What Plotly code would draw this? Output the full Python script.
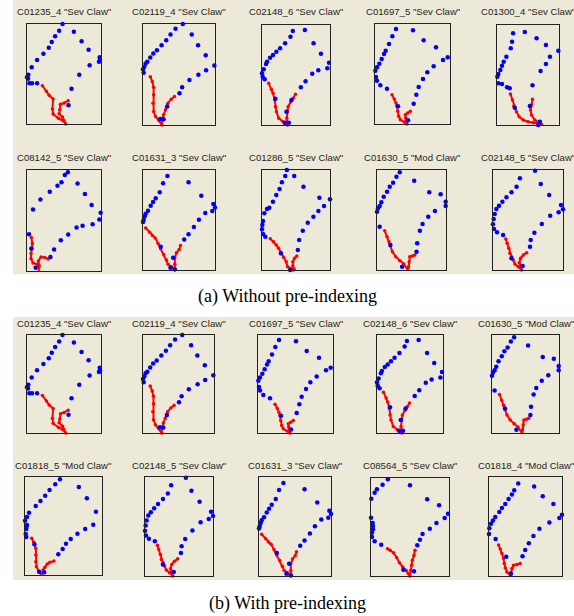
import plotly.graph_objects as go

# ---------------- data: foot outlines (local frame units, y downward) ----------------
# Each shape: blue landmark points, red toe polyline, frame extent (W, H)
A_ext = (221, 300)
A_blue = [(106,0),(96,20),(140,23),(84,37),(74,54),(163,52),(65,71),(184,77),(49,89),(30,108),
          (217,100),(218,108),(215,113),(187,124),(14,130),(4,152),(0,160),(3,164),(7,178),(15,178),
          (30,178),(156,152),(133,194),(124,244)]
A_red = [(46,185),(58,202),(66,214),(78,225),(76,255),(78,270),(94,283),(106,289),(116,300),
         (110,289),(106,279),(96,269),(98,257),(100,241),(111,237),(123,230)]

B_ext = (217, 305)
B_blue = [(120,0),(98,14),(147,32),(83,32),(70,49),(56,64),(166,64),(42,79),(31,89),(22,101),
          (189,94),(13,114),(8,119),(4,129),(0,137),(2,147),(215,125),(190,140),(167,153),(140,169),
          (118,191),(110,209),(73,249),(52,287),(62,288)]
B_red = [(22,159),(28,174),(32,191),(32,214),(30,239),(32,264),(38,279),(48,291),(57,305),
         (58,291),(62,274),(68,259),(75,239),(85,227),(95,219)]

C_ext = (203, 300)
C_blue = [(108,-2),(92,18),(128,15),(85,35),(69,55),(154,55),(54,70),(43,80),(33,90),(24,98),
          (176,86),(15,110),(12,117),(5,133),(0,145),(2,155),(8,163),(200,113),(195,130),(168,136),
          (150,146),(130,169),(116,187),(40,221),(88,225),(73,260),(68,293),(80,293)]
C_red = [(20,175),(28,193),(33,205),(38,225),(40,245),(43,260),(50,280),(63,290),(76,300),
         (74,280),(76,260),(78,245),(86,230),(93,220),(100,208)]

D_ext = (225, 300)
D_blue = [(63,15),(114,19),(52,37),(146,49),(42,60),(183,70),(32,80),(27,90),(20,105),(13,119),
          (6,130),(1,140),(-1,147),(3,159),(6,170),(16,184),(36,194),(218,100),(204,108),(176,127),
          (157,145),(144,165),(131,189),(124,212),(116,239),(69,247),(99,289)]
D_red = [(51,212),(58,225),(63,237),(66,247),(68,262),(71,277),(76,287),(88,294),(96,300),
         (94,292),(92,282),(91,272),(98,267),(106,262)]

E_ext = (185, 300)
E_blue = [(48,-2),(48,25),(83,21),(45,50),(118,40),(41,70),(146,60),(28,95),(20,110),(15,122),
          (10,135),(4,147),(1,155),(-2,168),(4,175),(15,177),(30,187),(38,190),(183,77),(158,95),
          (146,117),(130,138),(106,181),(53,248),(98,243),(123,300),(128,290)]
E_red = [(40,207),(46,225),(50,243),(58,260),(66,275),(78,285),(93,290),(108,293),(123,295),(133,298),
         (126,293),(113,285),(103,270),(100,255),(103,240),(106,223)]

F_ext = (221, 302)
F_blue = [(135,-2),(122,7),(113,15),(103,37),(91,47),(151,40),(68,65),(173,72),(40,88),(193,105),
          (18,118),(220,128),(216,148),(-2,147),(-2,162),(-2,178),(6,192),(196,162),(166,167),(148,172),
          (123,193),(101,210),(81,238),(70,260),(26,292),(13,235)]
F_red = [(13,202),(16,220),(15,235),(12,250),(12,265),(18,278),(30,282),(36,290),(35,303),
         (36,285),(34,272),(42,260),(53,262),(63,266),(70,262)]

G_ext = (215, 302)
G_blue = [(90,-2),(73,18),(136,37),(60,40),(50,67),(174,78),(38,85),(30,97),(23,108),(15,123),
          (8,132),(5,140),(2,150),(0,157),(210,103),(215,113),(207,124),(186,130),(167,150),(152,172),
          (136,194),(123,210),(53,232),(90,265),(82,295),(95,300)]
G_red = [(8,175),(20,188),(28,198),(36,205),(45,222),(53,238),(62,255),(70,272),(75,285),(85,292),
         (95,302),(95,285),(95,265),(100,250),(108,240),(112,228)]

H_ext = (205, 300)
H_blue = [(75,0),(70,18),(97,18),(60,37),(125,50),(53,57),(43,75),(33,95),(22,113),(15,117),
          (7,130),(3,153),(1,165),(0,178),(3,192),(10,200),(173,83),(205,88),(187,108),(170,123),
          (155,140),(138,158),(123,182),(112,210),(108,240),(57,250),(85,300)]
H_red = [(25,206),(35,215),(43,225),(50,235),(57,250),(65,262),(73,275),(77,290),(85,295),(95,300),
         (97,298),(93,288),(93,275),(98,265),(105,258)]

I_ext = (206, 300)
I_blue = [(80,-2),(68,7),(58,20),(111,32),(48,38),(38,50),(30,65),(20,80),(13,97),(8,108),
          (3,115),(0,125),(-2,135),(-2,145),(-2,150),(8,170),(156,67),(190,73),(205,95),(205,108),
          (173,123),(153,140),(136,162),(128,182),(120,220),(118,245),(40,225),(75,290)]
I_red = [(23,182),(30,200),(36,215),(40,228),(46,245),(56,260),(68,272),(80,282),(93,302),
         (94,290),(96,275),(98,260),(106,258),(113,255)]

J_ext = (208, 300)
J_blue = [(87,-2),(125,2),(80,25),(142,42),(70,50),(55,67),(40,82),(28,95),(18,107),(10,117),
          (5,132),(2,147),(0,163),(3,177),(12,187),(30,195),(167,75),(202,105),(208,118),(195,127),
          (170,137),(145,162),(123,188),(112,210),(110,230),(55,265),(88,288)]
J_red = [(38,207),(42,220),(47,235),(50,250),(55,260),(60,270),(65,282),(75,290),(85,300),
         (82,288),(78,278),(82,265),(90,255),(100,248)]

K_ext = (229, 294)
K_blue = [(104,7),(90,22),(160,30),(73,39),(60,56),(184,64),(46,72),(32,87),(12,107),(6,120),
          (0,131),(6,144),(4,149),(4,156),(2,171),(4,180),(211,104),(230,137),(203,143),(179,156),
          (156,170),(136,186),(122,200),(112,216),(99,232),(28,202),(42,284),(57,286)]
K_red = [(20,184),(26,196),(32,214),(32,234),(32,254),(34,269),(42,284),(49,296),
         (54,279),(59,271),(66,261),(74,256),(86,252)]

L_ext = (236, 294)
L_blue = [(68,-2),(51,4),(35,20),(118,22),(18,34),(11,44),(1,62),(-2,79),(-2,100),(0,119),
          (5,135),(6,144),(6,154),(3,164),(3,177),(11,190),(31,200),(170,64),(206,82),(233,107),
          (223,120),(198,135),(178,152),(156,168),(148,185),(140,202),(98,275),(130,280)]
L_red = [(50,212),(58,217),(68,224),(78,239),(86,254),(96,267),(106,277),(113,287),(118,294),
         (120,277),(123,262),(125,247),(130,232),(133,217)]

M_ext = (220, 294)
M_blue = [(102,-2),(88,19),(136,28),(76,39),(162,57),(69,52),(59,65),(49,80),(39,92),(31,104),
          (19,119),(12,129),(6,139),(1,152),(-1,162),(0,169),(20,184),(194,80),(220,112),(212,122),
          (182,135),(152,154),(134,175),(120,197),(109,217),(101,235),(52,237),(66,287)]
M_red = [(29,202),(34,214),(39,227),(44,242),(46,257),(49,270),(54,282),(64,290),
         (66,284),(69,272),(74,262),(84,260),(94,257)]

SHAPES = {
    "A": (A_ext, A_blue, A_red), "B": (B_ext, B_blue, B_red), "C": (C_ext, C_blue, C_red),
    "D": (D_ext, D_blue, D_red), "E": (E_ext, E_blue, E_red), "F": (F_ext, F_blue, F_red),
    "G": (G_ext, G_blue, G_red), "H": (H_ext, H_blue, H_red), "I": (I_ext, I_blue, I_red),
    "J": (J_ext, J_blue, J_red), "K": (K_ext, K_blue, K_red), "L": (L_ext, L_blue, L_red),
    "M": (M_ext, M_blue, M_red),
}

# panel titles and which outline they show
titles_a = ['C01235_4 "Sev Claw"', 'C02119_4 "Sev Claw"', 'C02148_6 "Sev Claw"', 'C01697_5 "Sev Claw"', 'C01300_4 "Sev Claw"',
            'C08142_5 "Sev Claw"', 'C01631_3 "Sev Claw"', 'C01286_5 "Sev Claw"', 'C01630_5 "Mod Claw"', 'C02148_5 "Sev Claw"']
shapes_a = ["A", "B", "C", "D", "E", "F", "G", "H", "I", "J"]
titles_b = ['C01235_4 "Sev Claw"', 'C02119_4 "Sev Claw"', 'C01697_5 "Sev Claw"', 'C02148_6 "Sev Claw"', 'C01630_5 "Mod Claw"',
            'C01818_5 "Mod Claw"', 'C02148_5 "Sev Claw"', 'C01631_3 "Sev Claw"', 'C08564_5 "Sev Claw"', 'C01818_4 "Mod Claw"']
shapes_b = ["A", "B", "D", "C", "I", "K", "J", "G", "L", "M"]

captions = ["(a) Without pre-indexing", "(b) With pre-indexing"]

# ---------------- layout (pixel geometry) ----------------
FW, FH = 574, 616
# box rectangles: (x0, x1, y0, y1) in screen pixels from top-left
boxes = [
    (27, 101, 24, 124), (143, 215, 24, 125), (262, 330, 25, 125), (375, 450, 24, 124), (497, 559, 25, 125),
    (27, 101, 170, 271), (143, 215, 170, 270), (262, 330, 170, 270), (377, 446, 170, 270), (493, 563, 170, 270),
    (27, 101, 335, 433), (143, 214, 335, 433), (258, 333, 335, 433), (377, 443, 335, 433), (492, 559, 335, 433),
    (25, 102, 477, 575), (145, 213, 477, 576), (259, 331, 477, 576), (371, 449, 478, 576), (489, 562, 477, 576),
]
title_y = [12, 157, 323, 465]

def px(x):
    return x / FW

def py(y):
    return 1 - y / FH

fig = go.Figure()
layout = dict(
    width=FW, height=FH, margin=dict(l=0, r=0, t=0, b=0),
    paper_bgcolor="white", plot_bgcolor="white", showlegend=False,
    shapes=[], annotations=[],
)

# beige window backgrounds
for (y0, y1) in [(0, 274), (317, 580)]:
    layout["shapes"].append(dict(type="rect", xref="paper", yref="paper",
                                 x0=px(13), x1=px(574), y0=py(y1), y1=py(y0),
                                 fillcolor="#ECE9D8", line=dict(width=0), layer="below"))

all_titles = titles_a + titles_b
all_shapes = shapes_a + shapes_b
for i, (bx0, bx1, by0, by1) in enumerate(boxes):
    k = i + 1
    xa = "x" if k == 1 else f"x{k}"
    ya = "y" if k == 1 else f"y{k}"
    ext, blue, red = SHAPES[all_shapes[i]]
    W, H = ext
    fig.add_trace(go.Scatter(x=[p[0] for p in red], y=[p[1] for p in red], mode="lines+markers",
                             line=dict(color="#FF0000", width=2), marker=dict(color="#FF0000", size=3.5),
                             xaxis=xa, yaxis=ya, cliponaxis=False, hoverinfo="skip"))
    fig.add_trace(go.Scatter(x=[p[0] for p in blue], y=[p[1] for p in blue], mode="markers",
                             marker=dict(color="#0000FF", size=4.5), xaxis=xa, yaxis=ya,
                             cliponaxis=False, hoverinfo="skip"))
    axcommon = dict(showgrid=False, zeroline=False, showticklabels=False, ticks="",
                    showline=True, mirror=True, linecolor="#222222", linewidth=1, fixedrange=True)
    xkey = "xaxis" if k == 1 else f"xaxis{k}"
    ykey = "yaxis" if k == 1 else f"yaxis{k}"
    layout[xkey] = dict(domain=[px(bx0), px(bx1)], range=[0, W], anchor=ya, **axcommon)
    layout[ykey] = dict(domain=[py(by1), py(by0)], range=[H, 0], anchor=xa, **axcommon)
    row = i // 5
    layout["annotations"].append(dict(text=all_titles[i], xref="paper", yref="paper",
                                      x=px((bx0 + bx1) / 2), y=py(title_y[row]), showarrow=False,
                                      xanchor="center", yanchor="middle",
                                      font=dict(family="Liberation Sans, Arial", size=9.6, color="#1e1e1e")))

for cap, cy in zip(captions, [296, 603]):
    layout["annotations"].append(dict(text=cap, xref="paper", yref="paper", x=px(287), y=py(cy),
                                      showarrow=False, xanchor="center", yanchor="middle",
                                      font=dict(family="Liberation Serif, Times New Roman", size=18, color="black")))

fig.update_layout(**layout)
fig.write_html("out.html", config={"displayModeBar": False},
               post_script="document.body.style.margin='0';document.body.style.overflow='hidden';")
